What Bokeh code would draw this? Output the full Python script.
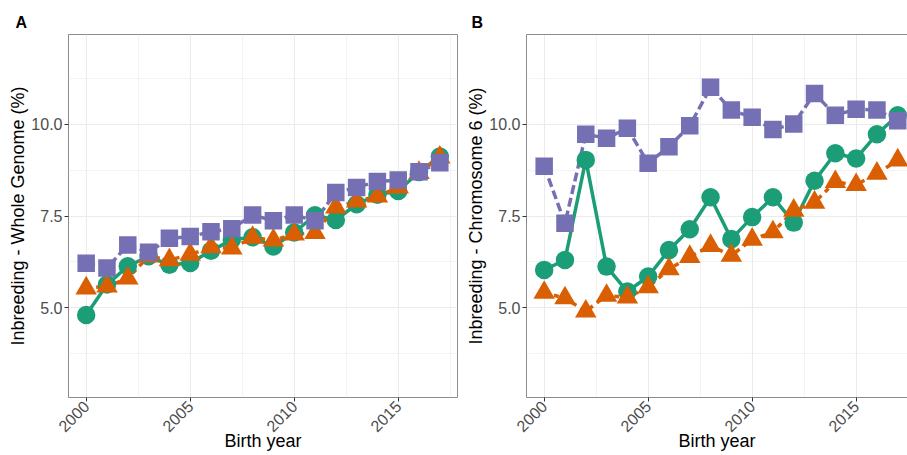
import math
from bokeh.plotting import figure
from bokeh.models import FixedTicker, LinearAxis, Range1d
from bokeh.layouts import row
from bokeh.embed import file_html
from bokeh.resources import INLINE

# ---------------- data ----------------
years = list(range(2000, 2018))

# Panel A: Inbreeding - Whole Genome (%)
wg_green = [4.80, 5.63, 6.13, 6.40, 6.17, 6.22, 6.55, 6.85, 6.92, 6.67,
            7.05, 7.52, 7.39, 7.82, 8.08, 8.18, 8.70, 9.12]
wg_orange = [5.53, 5.58, 5.80, 6.40, 6.30, 6.45, 6.65, 6.62, 6.91, 6.84,
             7.00, 7.04, 7.74, 7.90, 8.04, 8.28, 8.68, 9.10]
wg_purple = [6.21, 6.08, 6.71, 6.51, 6.89, 6.94, 7.07, 7.15, 7.53, 7.37,
             7.53, 7.37, 8.14, 8.28, 8.44, 8.48, 8.71, 8.95]

# Panel B: Inbreeding - Chromosome 6 (%)
c6_green = [6.03, 6.30, 9.03, 6.12, 5.44, 5.85, 6.57, 7.14, 8.01, 6.87,
            7.47, 8.01, 7.32, 8.46, 9.21, 9.07, 9.73, 10.25]
c6_orange = [5.41, 5.26, 4.90, 5.33, 5.28, 5.56, 6.05, 6.39, 6.69, 6.42,
             6.86, 7.06, 7.65, 7.87, 8.43, 8.35, 8.66, 9.02]
c6_purple = [8.86, 7.30, 9.73, 9.62, 9.89, 8.94, 9.39, 9.96, 11.01, 10.39,
             10.19, 9.86, 10.01, 10.84, 10.25, 10.41, 10.39, 10.10]

x_ticks = [2000, 2005, 2010, 2015]
x_minor = [2002.5, 2007.5, 2012.5, 2017.5]
y_ticks = [5.0, 7.5, 10.0]
y_tick_labels = ["5.0", "7.5", "10.0"]
y_minor = [3.75, 6.25, 8.75, 11.25]

X_START, X_END = 1999.15, 2017.85
Y_START, Y_END = 2.55, 12.45

GREEN = "#1B9E77"
ORANGE = "#D95F02"
PURPLE = "#7570B3"
BORDER = "#8C8C8C"
FONT = "Liberation Sans"


def make_panel(letter, ylabel, g, o, pu, width, x_end, left_border, right_border,
               title_offset, use_outline):
    p = figure(width=width, height=455, output_backend="svg", toolbar_location=None,
               x_range=Range1d(X_START, x_end), y_range=Range1d(Y_START, Y_END),
               min_border_left=left_border, min_border_right=right_border,
               min_border_top=34, min_border_bottom=58, title=letter)
    p.background_fill_color = "white"
    p.border_fill_color = "white"
    p.outline_line_color = BORDER if use_outline else None
    p.outline_line_width = 1

    p.title.align = "left"
    p.title.offset = title_offset
    p.title.text_font = FONT
    p.title.text_font_size = "16px"
    p.title.text_font_style = "bold"
    p.title.text_color = "black"
    p.title.standoff = 8

    xt = FixedTicker(ticks=x_ticks, minor_ticks=x_minor)
    yt = FixedTicker(ticks=y_ticks, minor_ticks=y_minor)
    p.xaxis.ticker = xt
    p.yaxis.ticker = yt
    p.yaxis.major_label_overrides = {t: l for t, l in zip(y_ticks, y_tick_labels)}
    p.xaxis.major_label_overrides = {t: str(t) for t in x_ticks}

    for ax in (p.xaxis[0], p.yaxis[0]):
        ax.axis_line_color = None if use_outline else BORDER
        ax.major_tick_line_color = "#333333"
        ax.major_tick_out = 4
        ax.major_tick_in = 0
        ax.minor_tick_out = 0
        ax.minor_tick_in = 0
        ax.major_label_text_font = FONT
        ax.major_label_text_font_size = "16px"
        ax.major_label_text_color = "#4D4D4D"
        ax.axis_label_text_font = FONT
        ax.axis_label_text_font_size = "18px"
        ax.axis_label_text_font_style = "normal"
        ax.axis_label_text_color = "black"
        ax.major_label_standoff = 2
    p.yaxis.axis_label = ylabel
    p.xaxis.axis_label = "Birth year"
    p.xaxis.major_label_orientation = math.pi / 4
    p.yaxis.axis_label_standoff = 0
    p.xaxis.axis_label_standoff = -9

    if not use_outline:
        top = LinearAxis(ticker=FixedTicker(ticks=[]), major_label_text_font_size="0px",
                         axis_line_color=BORDER, major_tick_out=0, minor_tick_out=0)
        p.add_layout(top, "above")

    p.xgrid.grid_line_color = "#EBEBEB"
    p.ygrid.grid_line_color = "#EBEBEB"
    p.xgrid.grid_line_width = 1.1
    p.ygrid.grid_line_width = 1.1
    p.xgrid.minor_grid_line_color = "#EBEBEB"
    p.ygrid.minor_grid_line_color = "#EBEBEB"
    p.xgrid.minor_grid_line_width = 0.6
    p.ygrid.minor_grid_line_width = 0.6

    lw = 3.5
    p.line(years, g, line_color=GREEN, line_width=lw)
    p.line(years, o, line_color=ORANGE, line_width=lw, line_dash="5 5")
    p.line(years, pu, line_color=PURPLE, line_width=lw, line_dash="9 4")
    p.scatter(years, g, marker="circle", size=18.5, fill_color=GREEN, line_color=None)
    p.scatter(years, o, marker="triangle", size=21.5, fill_color=ORANGE, line_color=None)
    p.scatter(years, pu, marker="square", size=17.5, fill_color=PURPLE, line_color=None)
    return p


pA = make_panel("A", "Inbreeding - Whole Genome (%)", wg_green, wg_orange, wg_purple,
                460, X_END, 68, 3, -53, True)
pB = make_panel("B", "Inbreeding - Chromosome 6 (%)", c6_green, c6_orange, c6_purple,
                447, 2017.47, 66, 0, -55, False)

layout = row(pA, pB)
open("out.html", "w").write(file_html(layout, INLINE))
